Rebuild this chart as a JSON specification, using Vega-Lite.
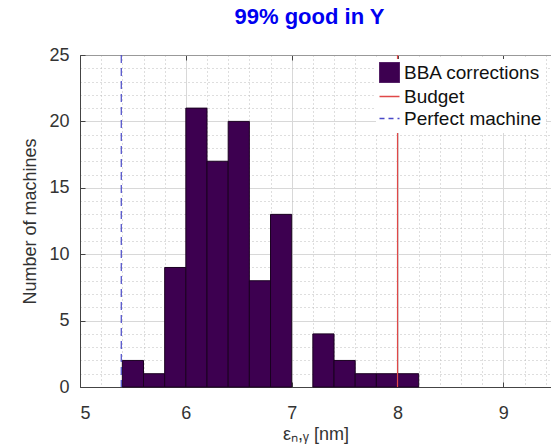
{
  "$schema": "https://vega.github.io/schema/vega-lite/v6.json",
  "width": 471,
  "height": 332,
  "autosize": "none",
  "padding": {"left": 80, "top": 55, "right": 0, "bottom": 59},
  "background": "white",
  "title": {"text": "99% good in Y", "color": "#0000f0", "font": "Liberation Sans", "fontSize": 22, "fontWeight": "bold", "anchor": "middle", "offset": 17, "dx": -6},
  "config": {
    "view": {"stroke": null},
    "axis": {"labelFont": "Liberation Sans", "titleFont": "Liberation Sans", "labelColor": "#333", "titleColor": "#333", "labelFontSize": 18, "titleFontSize": 18, "titleFontWeight": "normal"},
    "legend": {
      "orient": "none", "legendX": 296, "legendY": 4,
      "fillColor": "white", "padding": 4,
      "labelFont": "Liberation Sans", "labelFontSize": 19, "labelColor": "#111",
      "symbolSize": 400, "rowPadding": 2, "labelOffset": 5
    }
  },
  "datasets": {
    "bins": [
      {"bin_start": 5.4, "bin_end": 5.6, "count": 2, "series": "BBA corrections"},
      {"bin_start": 5.6, "bin_end": 5.8, "count": 1, "series": "BBA corrections"},
      {"bin_start": 5.8, "bin_end": 6.0, "count": 9, "series": "BBA corrections"},
      {"bin_start": 6.0, "bin_end": 6.2, "count": 21, "series": "BBA corrections"},
      {"bin_start": 6.2, "bin_end": 6.4, "count": 17, "series": "BBA corrections"},
      {"bin_start": 6.4, "bin_end": 6.6, "count": 20, "series": "BBA corrections"},
      {"bin_start": 6.6, "bin_end": 6.8, "count": 8, "series": "BBA corrections"},
      {"bin_start": 6.8, "bin_end": 7.0, "count": 13, "series": "BBA corrections"},
      {"bin_start": 7.2, "bin_end": 7.4, "count": 4, "series": "BBA corrections"},
      {"bin_start": 7.4, "bin_end": 7.6, "count": 2, "series": "BBA corrections"},
      {"bin_start": 7.6, "bin_end": 7.8, "count": 1, "series": "BBA corrections"},
      {"bin_start": 7.8, "bin_end": 8.0, "count": 1, "series": "BBA corrections"},
      {"bin_start": 8.0, "bin_end": 8.2, "count": 1, "series": "BBA corrections"}
    ],
    "lines": [
      {"series": "Budget", "value": 8.0},
      {"series": "Perfect machine", "value": 5.39}
    ]
  },
  "resolve": {"axis": {"x": "independent", "y": "independent"}},
  "layer": [
    {
      "data": {"name": "bins"},
      "mark": {"type": "rect", "opacity": 0},
      "encoding": {
        "x": {"field": "bin_start", "type": "quantitative", "scale": {"domain": [5, 9.45], "nice": false, "zero": false},
          "axis": {"orient": "bottom", "values": [5.2,5.4,5.6,5.8,6.2,6.4,6.6,6.8,7.2,7.4,7.6,7.8,8.2,8.4,8.6,8.8,9.2,9.4], "grid": true, "gridDash": [1, 3], "gridColor": "#bdbdbd", "labels": false, "ticks": false, "domain": false, "title": null}},
        "x2": {"field": "bin_end"},
        "y": {"field": "count", "type": "quantitative", "scale": {"domain": [0, 25], "nice": false},
          "axis": {"orient": "left", "values": [1,2,3,4,6,7,8,9,11,12,13,14,16,17,18,19,21,22,23,24], "grid": true, "gridDash": [1, 3], "gridColor": "#bdbdbd", "labels": false, "ticks": false, "domain": false, "title": null}}
      }
    },
    {
      "data": {"name": "bins"},
      "mark": {"type": "rect", "stroke": "#1a0020", "strokeWidth": 1},
      "encoding": {
        "x": {"field": "bin_start", "type": "quantitative",
          "axis": {"orient": "bottom", "values": [5, 6, 7, 8, 9], "grid": true, "gridColor": "#d8d8d8", "tickSize": -5, "tickColor": "#444", "domainColor": "#444", "labelPadding": 22, "title": "εₙ,ᵧ [nm]", "titlePadding": 3}},
        "x2": {"field": "bin_end"},
        "y": {"field": "count", "type": "quantitative",
          "axis": {"orient": "left", "values": [0, 5, 10, 15, 20, 25], "grid": true, "gridColor": "#d8d8d8", "tickSize": -5, "tickColor": "#444", "domainColor": "#444", "labelPadding": 16, "title": "Number of machines", "titlePadding": 9}},
        "color": {"field": "series", "type": "nominal",
          "scale": {"domain": ["BBA corrections", "Budget", "Perfect machine"], "range": ["#3d0050", "#e04848", "#4848c8"]},
          "legend": {
            "title": null,
            "encode": {"symbols": {"update": {
              "shape": {"signal": "datum.value === 'BBA corrections' ? 'square' : 'stroke'"},
              "fill": {"signal": "datum.value === 'BBA corrections' ? '#3d0050' : 'transparent'"},
              "stroke": {"signal": "datum.value === 'BBA corrections' ? '#1a0020' : (datum.value === 'Budget' ? '#e04848' : '#4848c8')"},
              "strokeWidth": {"signal": "datum.value === 'BBA corrections' ? 1 : 1.3"},
              "strokeDash": {"signal": "datum.value === 'Perfect machine' ? [5, 4] : [1, 0]"}
            }}}
          }}
      }
    },
    {
      "data": {"name": "lines"},
      "transform": [{"filter": "datum.series === 'Budget'"}],
      "mark": {"type": "rule", "strokeWidth": 1.2},
      "encoding": {
        "x": {"field": "value", "type": "quantitative",
          "axis": {"orient": "top", "values": [5, 6, 7, 8, 9], "grid": false, "labels": false, "tickSize": -5, "tickColor": "#444", "domainColor": "#999", "title": null}},
        "color": {"field": "series", "type": "nominal",
          "legend": {
            "title": null,
            "encode": {"symbols": {"update": {
              "shape": {"signal": "datum.value === 'BBA corrections' ? 'square' : 'stroke'"},
              "fill": {"signal": "datum.value === 'BBA corrections' ? '#3d0050' : 'transparent'"},
              "stroke": {"signal": "datum.value === 'BBA corrections' ? '#1a0020' : (datum.value === 'Budget' ? '#e04848' : '#4848c8')"},
              "strokeWidth": {"signal": "datum.value === 'BBA corrections' ? 1 : 1.3"},
              "strokeDash": {"signal": "datum.value === 'Perfect machine' ? [5, 4] : [1, 0]"}
            }}}
          }}
      }
    },
    {
      "data": {"name": "lines"},
      "transform": [{"filter": "datum.series === 'Perfect machine'"}],
      "mark": {"type": "rule", "strokeWidth": 1.2, "strokeDash": [8, 5]},
      "encoding": {
        "x": {"field": "value", "type": "quantitative", "axis": null},
        "color": {"field": "series", "type": "nominal",
          "legend": {
            "title": null,
            "encode": {"symbols": {"update": {
              "shape": {"signal": "datum.value === 'BBA corrections' ? 'square' : 'stroke'"},
              "fill": {"signal": "datum.value === 'BBA corrections' ? '#3d0050' : 'transparent'"},
              "stroke": {"signal": "datum.value === 'BBA corrections' ? '#1a0020' : (datum.value === 'Budget' ? '#e04848' : '#4848c8')"},
              "strokeWidth": {"signal": "datum.value === 'BBA corrections' ? 1 : 1.3"},
              "strokeDash": {"signal": "datum.value === 'Perfect machine' ? [5, 4] : [1, 0]"}
            }}}
          }}
      }
    }
  ]
}
